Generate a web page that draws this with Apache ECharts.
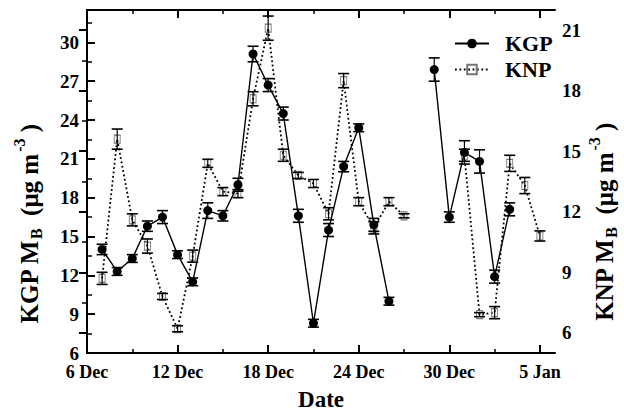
<!DOCTYPE html>
<html>
<head>
<meta charset="utf-8">
<script src="https://cdn.jsdelivr.net/npm/echarts@6/dist/echarts.min.js"></script>
<style>
  html, body { margin: 0; padding: 0; background: #fff; }
  #chart { width: 624px; height: 417px; }
</style>
</head>
<body>
<div id="chart"></div>
<script>
// days counted from 6 Dec (1 = 7 Dec ... 30 = 5 Jan)
var days = [1, 2, 3, 4, 5, 6, 7, 8, 9, 10, 11, 12, 13, 14, 15, 16, 17, 18, 19, 20,
  21, 22, 23, 24, 25, 26, 27, 28, 29, 30]
var kgp = [14.0, 12.3, 13.3, 15.8, 16.5, 13.6, 11.5, 17.0, 16.6, 19.0,
  29.1, 26.7, 24.5, 16.6, 8.3, 15.5, 20.4, 23.4, 15.9, 10.0,
  null, null, 27.9, 16.5, 21.5, 20.8, 11.9, 17.1, null, null]
var kgpErr = [0.4, 0.3, 0.3, 0.4, 0.5, 0.3, 0.3, 0.6, 0.4, 0.5,
  0.6, 0.5, 0.5, 0.5, 0.3, 0.5, 0.4, 0.3, 0.5, 0.3,
  null, null, 0.9, 0.4, 0.9, 0.9, 0.5, 0.5, null, null]
var knp = [8.7, 15.6, 11.6, 10.3, 7.8, 6.2, 9.8, 14.4, 13.0, 12.9,
  17.6, 21.1, 14.8, 13.8, 13.4, 11.9, 18.5, 12.5, 11.2, 12.5,
  11.8, null, null, null, 14.8, 6.9, 7.0, 14.4, 13.3, 10.8]
var knpErr = [0.3, 0.5, 0.3, 0.35, 0.15, 0.15, 0.3, 0.2, 0.2, 0.2,
  0.35, 0.6, 0.3, 0.15, 0.2, 0.3, 0.35, 0.2, 0.3, 0.2,
  0.1, null, null, null, 0.3, 0.1, 0.3, 0.4, 0.4, 0.25]

var xTickDays = [0, 6, 12, 18, 24, 30]
var xTickLabels = ['6 Dec', '12 Dec', '18 Dec', '24 Dec', '30 Dec', '5 Jan']
var xMinorDays = [3, 9, 15, 21, 27]
var leftTicks = [6, 9, 12, 15, 18, 21, 24, 27, 30]
var leftMinor = [7.5, 10.5, 13.5, 16.5, 19.5, 22.5, 25.5, 28.5, 31.5]
var rightTicks = [6, 9, 12, 15, 18, 21]
var rightMinor = [7.5, 10.5, 13.5, 16.5, 19.5]

var font = 'Liberation Serif'

function pairs(vals) {
  return days.map(function(d, i) {
    return [d, vals[i] === null ? '-' : vals[i]]
  })
}
function errData(vals, errs) {
  var out = []
  for (var i = 0; i < days.length; i++) {
    if (vals[i] !== null) out.push([days[i], vals[i], errs[i]])
  }
  return out
}
function renderErr(params, api) {
  var x = api.value(0)
  var y = api.value(1)
  var e = api.value(2)
  var top = api.coord([x, y + e])
  var bot = api.coord([x, y - e])
  var w = 5.5
  var st = { stroke: '#000', lineWidth: 1.6 }
  return {
    type: 'group',
    children: [
      { type: 'line', shape: { x1: top[0], y1: top[1], x2: bot[0], y2: bot[1] }, style: { stroke: '#000', lineWidth: 1.2 } },
      { type: 'line', shape: { x1: top[0] - w, y1: top[1], x2: top[0] + w, y2: top[1] }, style: st },
      { type: 'line', shape: { x1: bot[0] - w, y1: bot[1], x2: bot[0] + w, y2: bot[1] }, style: st }
    ]
  }
}

function tickAxis(opts) {
  return Object.assign({
    type: 'value',
    axisLine: { show: false },
    splitLine: { show: false },
    axisLabel: { show: false },
    axisTick: { show: true, inside: true, length: 5, lineStyle: { color: '#000', width: 1.5 } }
  }, opts)
}

var nameRich = {
  n: { fontFamily: font, fontWeight: 'bold', fontSize: 25, color: '#000', lineHeight: 28, verticalAlign: 'top', padding: [6, 0, 0, 0] },
  sub: { fontFamily: font, fontWeight: 'bold', fontSize: 16, color: '#000', lineHeight: 16, verticalAlign: 'top', padding: [17, 0, 0, 1] },
  sup: { fontFamily: font, fontWeight: 'bold', fontSize: 16, color: '#000', lineHeight: 16, verticalAlign: 'top', padding: [0, 0, 0, 2] }
}
var nameText = function(s) {
  return '{n|' + s + ' M}{sub|B}{n|  (μg m}{sup|-3}{n| )}'
}

var chart = echarts.init(document.getElementById('chart'), null, { renderer: 'svg' })
chart.setOption({
  backgroundColor: '#fff',
  animation: false,
  grid: { left: 87, right: 69, top: 10, bottom: 64 },
  legend: {
    orient: 'vertical',
    left: 449,
    top: 27,
    itemWidth: 34,
    itemHeight: 12,
    itemGap: 3,
    data: ['KGP', 'KNP'],
    textStyle: { fontFamily: font, fontWeight: 'bold', fontSize: 22, color: '#000', lineHeight: 23, padding: [0, 0, 0, 11] }
  },
  xAxis: [
    {
      type: 'value', min: 0, max: 31, position: 'bottom',
      name: 'Date', nameLocation: 'middle', nameGap: 35,
      nameTextStyle: { fontFamily: font, fontWeight: 'bold', fontSize: 23, color: '#000' },
      axisLine: { show: true, lineStyle: { color: '#000', width: 2 } },
      splitLine: { show: false },
      axisTick: { show: true, inside: true, length: 8, customValues: xTickDays, lineStyle: { color: '#000', width: 2 } },
      axisLabel: {
        customValues: xTickDays, margin: 10,
        fontFamily: font, fontWeight: 'bold', fontSize: 18, color: '#000',
        formatter: function(v) { return xTickLabels[xTickDays.indexOf(v)] }
      }
    },
    tickAxis({ min: 0, max: 31, position: 'bottom', axisTick: { show: true, inside: true, length: 4, customValues: xMinorDays, lineStyle: { color: '#000', width: 1.5 } } }),
    {
      type: 'value', min: 0, max: 31, position: 'top',
      axisLine: { show: true, lineStyle: { color: '#000', width: 2 } },
      splitLine: { show: false },
      axisLabel: { show: false },
      axisTick: { show: true, inside: true, length: 8, customValues: xTickDays, lineStyle: { color: '#000', width: 2 } }
    },
    tickAxis({ min: 0, max: 31, position: 'top', axisTick: { show: true, inside: true, length: 4, customValues: xMinorDays, lineStyle: { color: '#000', width: 1.5 } } })
  ],
  yAxis: [
    {
      type: 'value', min: 6, max: 32.5, position: 'left',
      axisLine: { show: true, lineStyle: { color: '#000', width: 2 } },
      splitLine: { show: false },
      axisTick: { show: true, inside: true, length: 8, customValues: leftTicks, lineStyle: { color: '#000', width: 2 } },
      axisLabel: { customValues: leftTicks, margin: 8, fontFamily: font, fontWeight: 'bold', fontSize: 19, color: '#000' }
    },
    tickAxis({ min: 6, max: 32.5, position: 'left', axisTick: { show: true, inside: true, length: 5, customValues: leftMinor, lineStyle: { color: '#000', width: 1.5 } } }),
    {
      type: 'value', min: 5, max: 22, position: 'right',
      axisLine: { show: true, lineStyle: { color: '#000', width: 2 } },
      splitLine: { show: false },
      axisTick: { show: true, inside: true, length: 8, customValues: rightTicks, lineStyle: { color: '#000', width: 2 } },
      axisLabel: { customValues: rightTicks, margin: 7, fontFamily: font, fontWeight: 'bold', fontSize: 19, color: '#000' }
    },
    tickAxis({ min: 5, max: 22, position: 'right', axisTick: { show: true, inside: true, length: 5, customValues: rightMinor, lineStyle: { color: '#000', width: 1.5 } } })
  ],
  graphic: [
    {
      type: 'text', x: 25, y: 224, rotation: Math.PI / 2,
      style: { text: nameText('KGP'), rich: nameRich, align: 'center', verticalAlign: 'middle' }
    },
    {
      type: 'text', x: 600, y: 222, rotation: Math.PI / 2,
      style: { text: nameText('KNP'), rich: nameRich, align: 'center', verticalAlign: 'middle' }
    }
  ],
  series: [
    {
      name: 'KNP', type: 'line', xAxisIndex: 0, yAxisIndex: 2,
      data: pairs(knp), connectNulls: false, z: 2,
      symbol: 'rect', symbolSize: [6, 8],
      lineStyle: { color: '#000', width: 1.8, type: [1.8, 2.6] },
      itemStyle: { color: 'rgba(255,255,255,0)', borderColor: '#777', borderWidth: 1 }
    },
    {
      name: 'KNP err', type: 'custom', xAxisIndex: 0, yAxisIndex: 2,
      data: errData(knp, knpErr), renderItem: renderErr, z: 3
    },
    {
      name: 'KGP err', type: 'custom', xAxisIndex: 0, yAxisIndex: 0,
      data: errData(kgp, kgpErr), renderItem: renderErr, z: 3
    },
    {
      name: 'KGP', type: 'line', xAxisIndex: 0, yAxisIndex: 0,
      data: pairs(kgp), connectNulls: false, z: 4,
      symbol: 'circle', symbolSize: 9,
      lineStyle: { color: '#000', width: 1.4 },
      itemStyle: { color: '#000' }
    }
  ]
})
</script>
</body>
</html>
